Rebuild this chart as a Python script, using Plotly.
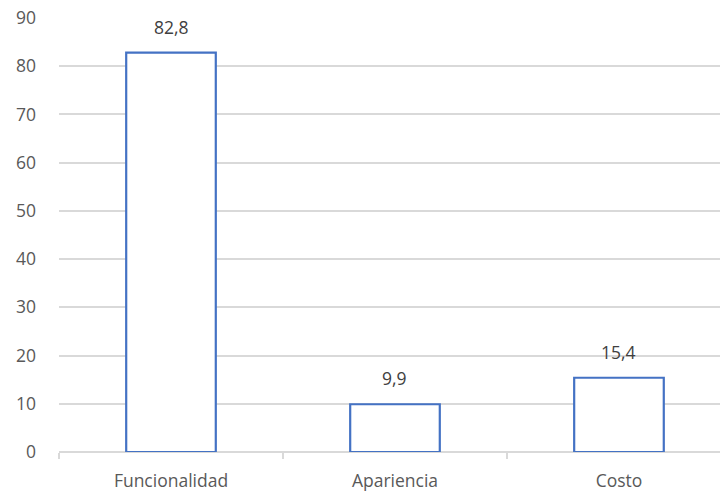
import plotly.graph_objects as go

categories = ["Funcionalidad", "Apariencia", "Costo"]
values = [82.8, 9.9, 15.4]
y_ticks = [0, 10, 20, 30, 40, 50, 60, 70, 80, 90]

BLUE = "#4472C4"
GRID = "#d9d9d9"
TEXT = "#595959"
FONT = "Open Sans"
SIZE = 17.5

fig = go.Figure()
fig.add_trace(go.Bar(
    x=categories,
    y=values,
    width=0.4,
    marker=dict(color="white", line=dict(color=BLUE, width=2.2)),
    hoverinfo="skip",
))

# value labels above each bar, using a decimal comma
for cat, v in zip(categories, values):
    fig.add_annotation(
        x=cat, y=v, text=f"{v:.1f}".replace(".", ","),
        showarrow=False, yanchor="middle", yshift=26,
        font=dict(family=FONT, size=SIZE, color="#404040"),
    )

fig.update_layout(
    width=720, height=495,
    margin=dict(l=59, r=0, t=18, b=43),
    paper_bgcolor="white", plot_bgcolor="white",
    showlegend=False,
    font=dict(family=FONT, size=SIZE, color=TEXT),
    xaxis=dict(
        range=[-0.5, 2.451],
        tickson="boundaries",
        ticks="outside", ticklen=6, tickcolor=GRID, tickwidth=1.5,
        showline=False, showgrid=False,
        ticklabelstandoff=16,
        tickfont=dict(family=FONT, size=SIZE, color=TEXT),
    ),
    yaxis=dict(
        range=[0, 90],
        tickvals=y_ticks,
        showgrid=True, gridcolor=GRID, gridwidth=1.5,
        zeroline=True, zerolinecolor=GRID, zerolinewidth=1.5,
        showline=False, ticks="",
        ticklabelstandoff=22,
        tickfont=dict(family=FONT, size=SIZE, color=TEXT),
    ),
)

fig.write_html("out.html")
